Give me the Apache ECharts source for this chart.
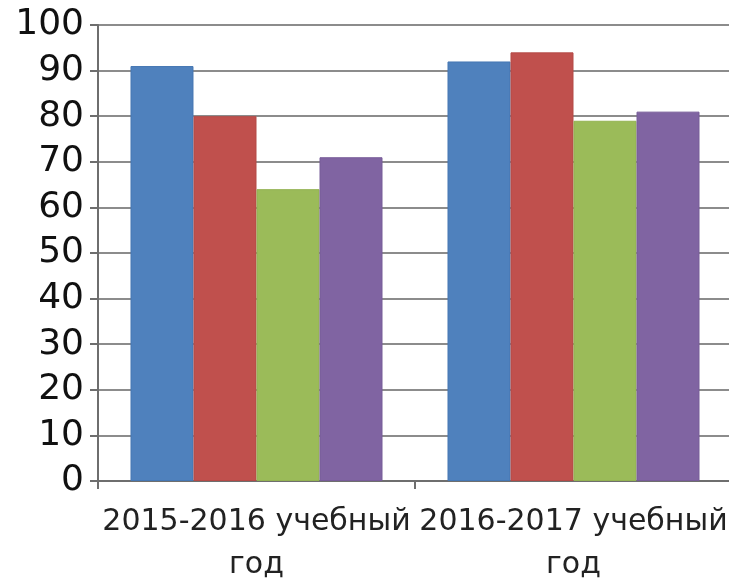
<!DOCTYPE html>
<html><head><meta charset="utf-8">
<script src="https://cdn.jsdelivr.net/npm/echarts@6/dist/echarts.min.js"></script>
<style>html,body{margin:0;padding:0;background:#fff;}#c{width:729px;height:579px;}</style>
</head><body><div id="c"></div>
<script>
const categories = ['2015-2016 учебный\nгод', '2016-2017 учебный\nгод'];
const series1 = [91, 92];
const series2 = [80, 94];
const series3 = [64, 79];
const series4 = [71, 81];
const yTicks = [0, 10, 20, 30, 40, 50, 60, 70, 80, 90, 100];
const colors = ['#4F81BD', '#C0504D', '#9BBB59', '#8064A2'];
const borders = ['#4677b3', '#b44a47', '#93b252', '#775c98'];

const chart = echarts.init(document.getElementById('c'));
const mk = (d, i) => ({
  type: 'bar', data: d, barGap: '0%', barCategoryGap: '20.5%',
  itemStyle: { color: colors[i], borderColor: borders[i], borderWidth: 1 },
  animation: false
});
chart.setOption({
  animation: false,
  grid: { left: 98, top: 25, width: 634, bottom: 98, containLabel: false, outerBoundsMode: 'none' },
  xAxis: {
    type: 'category', data: categories,
    axisLine: { lineStyle: { color: '#6e6e6e', width: 2 } },
    axisTick: { show: true, length: 8, lineStyle: { color: '#6e6e6e', width: 2 } },
    axisLabel: { interval: 0, fontFamily: 'DejaVu Sans', fontSize: 30, color: '#222', lineHeight: 43, margin: 20 },
    splitLine: { show: false }
  },
  yAxis: {
    type: 'value', min: yTicks[0], max: yTicks[yTicks.length - 1], interval: 10,
    axisLine: { show: true, lineStyle: { color: '#6e6e6e', width: 2 } },
    axisTick: { show: true, length: 8, lineStyle: { color: '#6e6e6e', width: 2 } },
    axisLabel: { fontFamily: 'DejaVu Sans', fontSize: 36, color: '#111', margin: 14 },
    splitLine: { lineStyle: { color: '#8c8c8c', width: 2 } }
  },
  series: [mk(series1, 0), mk(series2, 1), mk(series3, 2), mk(series4, 3)]
});
</script></body></html>
